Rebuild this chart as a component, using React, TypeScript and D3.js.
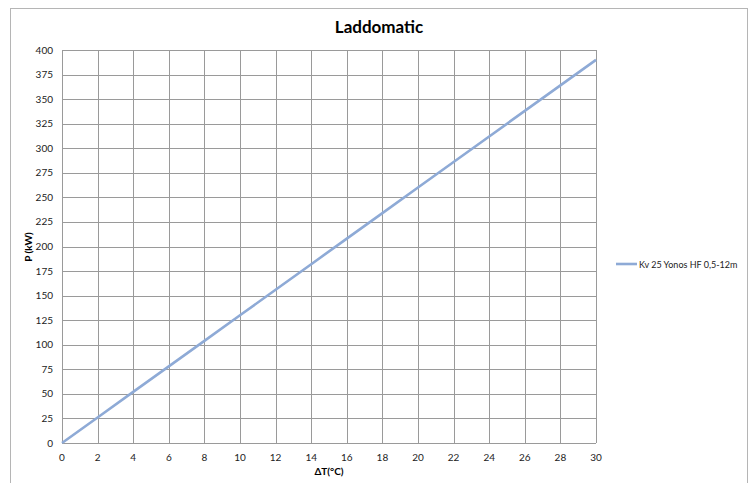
import { useEffect, useRef } from "react";
import * as d3 from "d3";

const deltaT = [0, 2, 4, 6, 8, 10, 12, 14, 16, 18, 20, 22, 24, 26, 28, 30];
const power = [0, 26, 52, 78, 104, 130, 156, 182, 208, 234, 260, 286, 312, 338, 364, 390];
const xTicks = d3.range(0, 31, 2);
const yTicks = d3.range(0, 401, 25);
const seriesName = "Kv 25 Yonos HF 0,5-12m";

const App = () => {
  const svgRef = useRef<SVGSVGElement>(null);

  useEffect(() => {
    const width = 752;
    const height = 483;
    const font = "Lato, 'Open Sans', sans-serif";
    const grid = "#9a9a9a";

    const svg = d3.select(svgRef.current);
    svg.selectAll("*").remove();
    svg.attr("width", width).attr("height", height);

    svg
      .append("rect")
      .attr("x", 10.5)
      .attr("y", 8.5)
      .attr("width", 737)
      .attr("height", 490)
      .attr("fill", "#fff")
      .attr("stroke", "#b5b5b5");

    const x = d3.scaleLinear().domain([0, 30]).range([62, 596]);
    const y = d3.scaleLinear().domain([0, 400]).range([443, 50]);

    const g = svg.append("g");

    g.selectAll("line.v")
      .data(xTicks)
      .enter()
      .append("line")
      .attr("x1", (d) => Math.round(x(d)) + 0.5)
      .attr("x2", (d) => Math.round(x(d)) + 0.5)
      .attr("y1", y(400))
      .attr("y2", y(0))
      .attr("stroke", grid);

    g.selectAll("line.h")
      .data(yTicks)
      .enter()
      .append("line")
      .attr("x1", x(0))
      .attr("x2", x(30))
      .attr("y1", (d) => Math.round(y(d)) + 0.5)
      .attr("y2", (d) => Math.round(y(d)) + 0.5)
      .attr("stroke", grid);

    g.selectAll("text.xt")
      .data(xTicks)
      .enter()
      .append("text")
      .attr("x", (d) => x(d))
      .attr("y", y(0) + 18)
      .attr("text-anchor", "middle")
      .style("font-family", font)
      .style("font-size", "10px")
      .attr("fill", "#222")
      .text((d) => d);

    g.selectAll("text.yt")
      .data(yTicks)
      .enter()
      .append("text")
      .attr("x", x(0) - 9)
      .attr("y", (d) => y(d) + 3.5)
      .attr("text-anchor", "end")
      .style("font-family", font)
      .style("font-size", "10px")
      .attr("fill", "#222")
      .text((d) => d);

    const line = d3
      .line<number>()
      .x((_, i) => x(deltaT[i]))
      .y((d) => y(d));

    g.append("path")
      .datum(power)
      .attr("d", line)
      .attr("fill", "none")
      .attr("stroke", "#8eaad6")
      .attr("stroke-width", 2.6);

    svg
      .append("text")
      .attr("x", 379)
      .attr("y", 33)
      .attr("text-anchor", "middle")
      .style("font-family", font)
      .style("font-size", "17px")
      .style("font-weight", "bold")
      .text("Laddomatic");

    svg
      .append("text")
      .attr("x", 329)
      .attr("y", 475)
      .attr("text-anchor", "middle")
      .style("font-family", font)
      .style("font-size", "10px")
      .style("font-weight", "bold")
      .text("ΔT(°C)");

    svg
      .append("text")
      .attr("transform", "translate(32,247) rotate(-90)")
      .attr("text-anchor", "middle")
      .style("font-family", font)
      .style("font-size", "10px")
      .style("font-weight", "bold")
      .text("P (kW)");

    const legend = svg.append("g").attr("transform", "translate(616,264)");
    legend
      .append("line")
      .attr("x1", 0)
      .attr("x2", 21)
      .attr("stroke", "#8eaad6")
      .attr("stroke-width", 2.6);
    legend
      .append("text")
      .attr("x", 23)
      .attr("y", 3.5)
      .style("font-family", font)
      .style("font-size", "9px")
      .attr("fill", "#222")
      .text(seriesName);
  }, []);

  return (
    <div style={{ position: "absolute", left: 0, top: 0 }}>
      <svg ref={svgRef} style={{ display: "block" }}></svg>
    </div>
  );
};

export default App;
